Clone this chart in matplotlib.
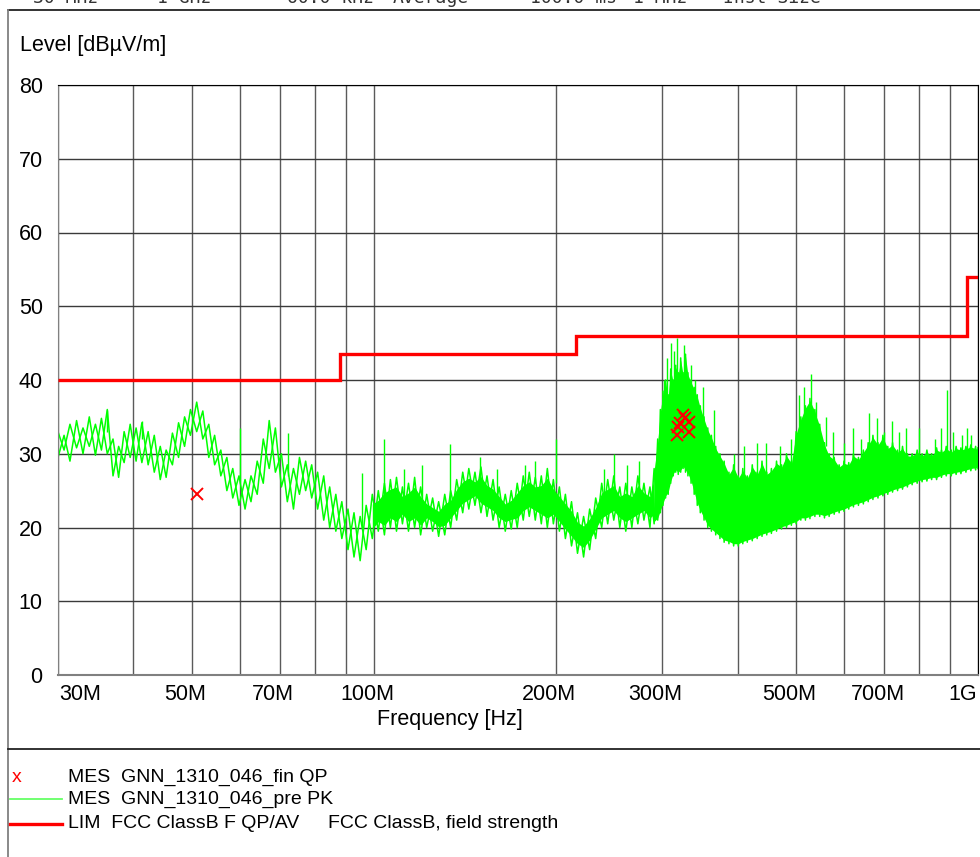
import numpy as np
import matplotlib
matplotlib.use('Agg')
import matplotlib.pyplot as plt
from matplotlib.lines import Line2D

plt.rcParams['font.family'] = ['Liberation Sans', 'DejaVu Sans']

# peak scan (MHz, lower / upper edge of the noisy trace in dBuV/m)
pk_f = [30, 30.7, 31.4, 32.2, 33, 33.8, 34.6, 35.4, 36.2, 37, 37.8, 38.6, 39.5, 40.4, 41.3,
        42.3, 43.3, 44.3, 45.3, 46.4, 47.5, 48.6, 49.7, 50.9, 52.1, 53.3, 54.5, 55.8, 57.1,
        58.4, 59.8, 61.2, 62.6, 64.1, 65.6, 67.1, 68.7, 70.3, 71.9, 73.6, 75.3, 77.1, 78.9,
        80.7, 82.6, 84.5, 86.5, 88.5, 90.6, 92.7, 94.9, 97.1, 99.4, 101.7, 104.1, 106.5, 109,
        111.5, 114.1, 116.8, 119.5, 122.3, 125.1, 128, 131, 134, 137.1, 140.3, 143.6, 147,
        150.4, 153.9, 157.5, 161.2, 165, 168.8, 172.7, 176.7, 180.8, 185, 189.3, 193.7, 198.2,
        202.8, 207.5, 212.4, 217.3, 222.4, 227.6, 232.9, 238.3, 243.8, 249.5, 255.3, 261.2,
        267.3, 273.5, 279.9, 286.4, 291, 295, 298, 301, 304, 307, 310, 313, 316, 319, 322, 325,
        328, 331, 335, 339, 343, 347, 352, 357, 362, 368, 374, 380, 387, 394, 401, 408, 415,
        423, 431, 439, 447, 455, 464, 473, 482, 491, 500, 509, 518, 527, 537, 547, 557, 567,
        578, 589, 600, 611, 622, 634, 646, 658, 670, 683, 696, 709, 722, 736, 750, 764, 778,
        793, 808, 823, 838, 854, 870, 886, 903, 920, 937, 955, 973, 991, 1000]
pk_lo = [29.5, 30.5, 29.0, 30.8, 30.0, 31.0, 29.8, 30.5, 30.0, 27.0, 26.8, 28.8, 29.5, 29.0, 28.8,
         28.5, 27.5, 26.5, 26.8, 28.5, 29.5, 31.0, 32.5, 33.0, 32.0, 29.5, 28.5, 27.0, 25.0,
         24.0, 23.0, 22.5, 23.5, 24.5, 26.0, 28.0, 27.5, 25.5, 23.5, 22.5, 24.5, 25.0, 24.0,
         22.5, 21.0, 20.0, 19.5, 18.5, 17.0, 16.0, 15.5, 17.0, 18.5, 19.5, 19.0, 20.0, 19.5,
         20.5, 19.5, 20.0, 19.0, 20.0, 19.5, 18.8, 19.0, 20.0, 21.0, 22.0, 22.5, 23.0,
         22.0, 21.5, 21.0, 20.0, 19.5, 19.8, 20.0, 21.0, 21.5, 21.0, 20.5, 20.0, 20.5,
         19.5, 18.5, 17.5, 16.5, 16.0, 17.0, 18.5, 20.0, 20.5, 21.0, 20.0, 19.5,
         20.0, 20.5, 21.0, 20.0, 20.5, 21.0, 22.0, 23.0, 24.0, 24.5, 26.0, 27.0, 27.5, 27.2, 27.5, 28.0,
         27.5, 27.0, 26.0, 24.5, 23.0, 22.0, 21.0, 20.0, 19.5, 19.0, 18.5, 18.0, 17.8, 17.5, 17.5, 17.8, 18.0,
         18.2, 18.5, 18.8, 19.0, 19.2, 19.5, 19.8, 20.0, 20.3, 20.5, 21.0, 21.0, 21.2, 21.5, 21.5, 21.3, 21.5,
         21.8, 22.0, 22.2, 22.5, 22.8, 23.0, 23.2, 23.5, 23.8, 24.0, 24.3, 24.5, 24.8, 25.0, 25.2, 25.5, 25.8,
         26.0, 26.2, 26.3, 26.5, 26.5, 26.8, 27.0, 27.0, 27.2, 27.3, 27.5, 27.7, 27.8, 28.0]
pk_hi = [33.0, 32.5, 34.0, 34.5, 33.5, 35.0, 34.0, 34.8, 36.0, 32.0, 31.0, 33.0, 34.0, 33.5, 34.2,
         33.0, 32.5, 31.0, 30.5, 32.8, 34.2, 35.0, 36.0, 37.0, 35.8, 34.0, 32.5, 30.5, 29.5,
         28.0, 27.0, 26.5, 27.0, 29.0, 32.0, 34.5, 33.5, 30.0, 28.5, 28.0, 29.5, 29.0, 28.5,
         27.5, 27.0, 25.5, 24.5, 23.5, 22.5, 22.0, 21.5, 23.0, 24.5, 25.0, 26.0, 26.5, 26.8,
         25.5, 26.0, 26.8, 25.5, 24.5, 24.0, 23.5, 24.5, 25.0, 26.5, 27.5, 28.0, 27.5,
         28.2, 27.0, 26.5, 25.5, 24.5, 25.0, 26.0, 27.0, 27.5, 26.8, 27.0, 28.0, 26.5,
         25.5, 24.5, 23.5, 22.0, 21.5, 22.5, 24.0, 26.0, 26.5, 27.0, 25.5, 26.0,
         25.5, 27.0, 26.0, 25.5, 28.0, 32.0, 36.0, 38.5, 40.0, 38.0, 41.5, 40.0, 42.0, 41.0, 43.0, 41.0,
         43.5, 41.0, 40.0, 39.0, 38.0, 36.5, 35.0, 33.5, 32.5, 31.0, 30.0, 29.0, 27.5, 28.5, 27.0, 28.0, 27.0,
         28.5, 27.5, 29.0, 27.5, 28.0, 29.0, 28.5, 30.0, 29.0, 33.0, 35.0, 36.5, 37.5, 36.0, 34.0, 31.5, 30.0,
         29.5, 28.5, 29.0, 28.8, 30.0, 29.5, 30.5, 31.5, 32.5, 31.5, 32.5, 31.0, 31.5, 30.5, 31.0, 30.0, 30.0,
         30.5, 30.0, 30.5, 30.0, 30.8, 30.5, 31.0, 30.5, 31.0, 30.8, 31.0, 31.2, 31.0, 30.8]

# single spikes sticking out of the trace
spk_f = [36.2, 41.3, 60.0, 72.0, 95.5, 104, 112, 120, 133.6, 150, 160, 178, 185, 200, 240, 250,
         262, 275, 302, 306, 310, 314, 318, 326, 335, 340, 350, 365, 395, 410, 430, 445, 470,
         490, 505, 515, 530, 540, 560, 575, 600, 620, 640, 660, 680, 700, 720, 740, 760, 800,
         850, 870, 888, 910, 940, 960, 975]
spk_lo = [33, 32, 26, 27, 20, 24, 24, 24, 23, 26, 24, 25, 26, 26, 24, 25,
          24, 25, 34, 36, 38, 40, 40, 40, 38, 36, 34, 31, 26, 26, 27, 27, 28,
          28, 32, 34, 36, 35, 31, 29, 28, 29, 29, 31, 31, 31, 30, 30, 30, 30,
          30, 30, 30, 30, 30, 30, 30]
spk_hi = [36.0, 34.5, 33.5, 32.8, 27.4, 32.0, 28.0, 28.5, 31.3, 29.5, 28.0, 28.5, 29.0, 32.0, 28.0, 30.0,
          28.5, 29.0, 40.0, 43.0, 45.0, 44.0, 45.7, 44.8, 42.0, 40.0, 39.0, 36.0, 30.0, 31.0, 31.5, 31.5, 31.0,
          32.0, 38.0, 39.0, 40.8, 37.0, 35.0, 33.0, 31.5, 33.5, 32.0, 35.5, 34.8, 33.0, 34.5, 33.0, 33.5, 33.5,
          32.0, 33.5, 38.7, 33.0, 32.5, 33.5, 32.5]

# final quasi-peak measurements
qp_f = [51.0, 317.5, 321, 325, 327, 332, 332, 319]
qp_v = [24.6, 32.5, 34.2, 35.2, 34.8, 34.3, 33.0, 33.6]

# FCC class B limit
lim_edges = [30, 88, 216, 960, 1000]
lim_levels = [40, 43.5, 46, 54]

xtick_vals = [30, 50, 70, 100, 200, 300, 500, 700, 1000]
xtick_labels = ['30M', '50M', '70M', '100M', '200M', '300M', '500M', '700M', '1G']
grid_f = [30, 40, 50, 60, 70, 80, 90, 100, 200, 300, 400, 500, 600, 700, 800, 900, 1000]

W, H = 980, 857
fig = plt.figure(figsize=(W / 100, H / 100), dpi=100)


def fx(px):
    return px / W


def fy(py):
    return 1 - py / H


ax = fig.add_axes([fx(58), fy(675), fx(978) - fx(58), fy(85) - fy(675)])
ax.set_xscale('log')
ax.set_xlim(30e6, 1e9)
ax.set_ylim(0, 80)

for g in grid_f:
    ax.axvline(g * 1e6, color='#5a5a5a', lw=1.0, zorder=1)
for v in range(0, 81, 10):
    ax.axhline(v, color='#3a3a3a', lw=1.0, zorder=1)

GREEN = '#00ff00'
f = np.array(pk_f) * 1e6
lo = np.array(pk_lo)
hi = np.array(pk_hi)
# trace drawn as two zig-zags between the read lower and upper edges
odd = np.arange(len(f)) % 2 == 1
ax.plot(f, np.where(odd, lo, hi), color=GREEN, lw=1.1, zorder=2)
ax.plot(f, np.where(odd, hi, lo), color=GREEN, lw=1.1, zorder=2)
# the scan gets denser above 100 MHz and turns into a solid band above ~290 MHz
mid = (f >= 99e6) & (f <= 291e6)
ax.fill_between(f[mid], lo[mid] + 1.3, hi[mid] - 1.3, color=GREEN, lw=0, zorder=2)
dense = f >= 291e6
ax.fill_between(f[dense], lo[dense] + 0.3, hi[dense] - 0.3, color=GREEN, lw=0, zorder=2)
ax.vlines(np.array(spk_f) * 1e6, spk_lo, spk_hi, color=GREEN, lw=1.0, zorder=2)

ax.stairs(lim_levels, np.array(lim_edges) * 1e6, color='red', lw=2.4, baseline=None, zorder=3)
ax.plot(np.array(qp_f) * 1e6, qp_v, 'x', color='red', ms=9, mew=1.4, zorder=4)

ax.set_yticks(range(0, 81, 10))
ax.tick_params(axis='y', length=0, pad=11, labelsize=15.5)
ax.set_xticks([])
ax.xaxis.set_minor_locator(matplotlib.ticker.NullLocator())

# x labels sit a little left of their grid lines
for val, lab in zip(xtick_vals, xtick_labels):
    dx = -5
    if lab == '30M':
        dx = 16
    elif lab == '1G':
        dx = -11
    ax.annotate(lab, (val * 1e6, 0), xycoords=('data', 'axes fraction'),
                xytext=(dx, -14), textcoords='offset points',
                ha='center', va='center', fontsize=15.5)

ax.spines['top'].set_color('black')
ax.spines['right'].set_color('black')
ax.spines['left'].set_color('#808080')
ax.spines['bottom'].set_color('#808080')
ax.spines['bottom'].set_linewidth(1.5)

fig.text(fx(20), fy(45), 'Level [dBµV/m]', fontsize=15.5, va='center')
fig.text(fx(450), fy(720), 'Frequency [Hz]', fontsize=15.5, ha='center', va='center')

# outer frame + legend separator
for xs, ys, c in [([8, W], [10, 10], '#222222'), ([8, 8], [10, H], '#808080'), ([8, W], [749, 749], '#222222')]:
    fig.add_artist(Line2D([fx(x) for x in xs], [fy(y) for y in ys], transform=fig.transFigure,
                          color=c, lw=1.3))

# clipped header row of the test receiver printout
header = [(33, '30 MHz'), (157, '1 GHz'), (287, '60.0 kHz'), (393, 'Average'),
          (530, '100.0 ms'), (633, '1 MHz'), (723, 'Inst Size')]
for x, s in header:
    fig.text(fx(x), fy(3), s, family='DejaVu Sans Mono', fontsize=13, va='baseline', color='#333333')

# legend
fig.text(fx(12), fy(777), 'x', color='red', fontsize=14, va='center')
fig.text(fx(68), fy(777), 'MES  GNN_1310_046_fin QP', fontsize=14, va='center')
fig.add_artist(Line2D([fx(10), fx(62)], [fy(799), fy(799)], transform=fig.transFigure, color='#66ff66', lw=1.3))
fig.text(fx(68), fy(799), 'MES  GNN_1310_046_pre PK', fontsize=14, va='center')
fig.add_artist(Line2D([fx(10), fx(62)], [fy(824), fy(824)], transform=fig.transFigure, color='red', lw=2.4))
fig.text(fx(68), fy(824), 'LIM  FCC ClassB F QP/AV', fontsize=14, va='center')
fig.text(fx(328), fy(824), 'FCC ClassB, field strength', fontsize=14, va='center')

fig.savefig('out.png', dpi=100)
